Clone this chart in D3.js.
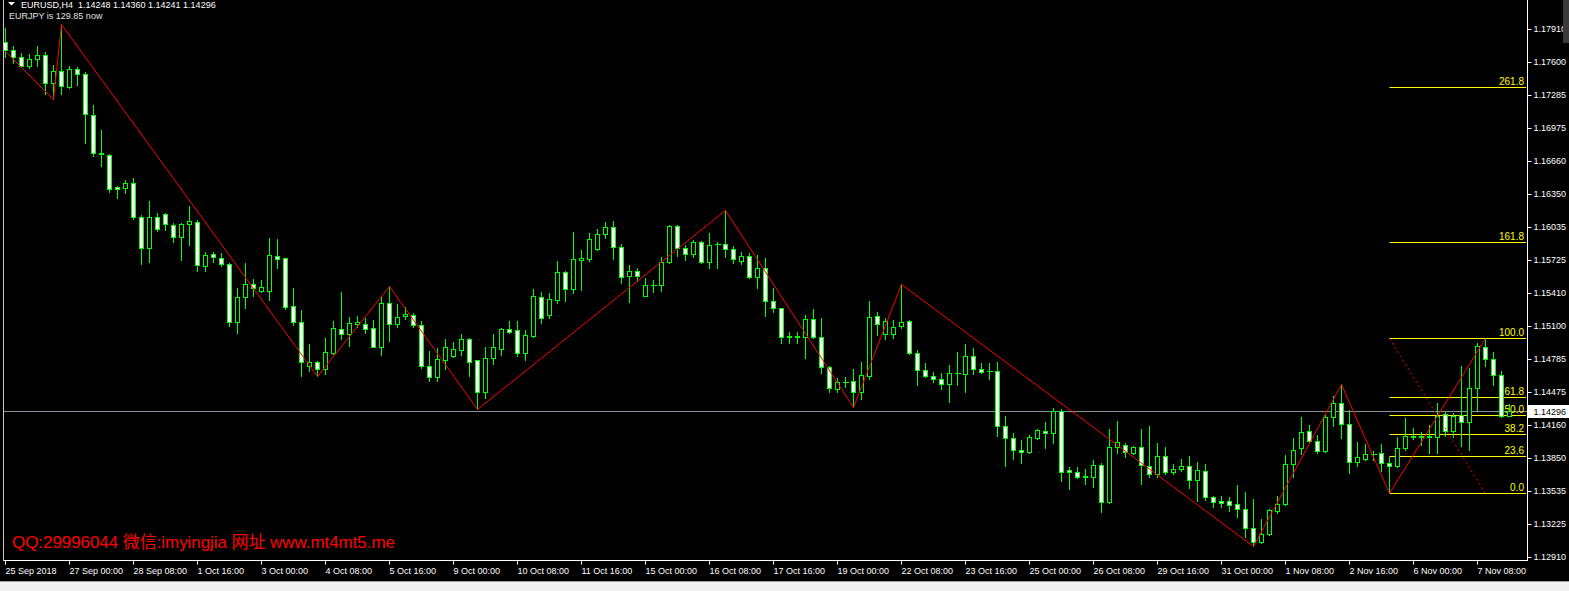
<!DOCTYPE html>
<html><head><meta charset="utf-8">
<script src="https://cdn.jsdelivr.net/npm/d3@7/dist/d3.min.js"></script>
<style>html,body{margin:0;padding:0;background:#000;overflow:hidden}svg{display:block}</style>
</head><body><svg id="c" width="1569" height="591"></svg>
<script>
const openP = [1.17787,1.17712,1.17645,1.17560,1.17626,1.17664,1.17399,1.17513,1.17361,1.17532,
1.17484,1.17096,1.16727,1.16717,1.16414,1.16405,1.16452,1.16130,1.15836,1.16130,
1.16158,1.16054,1.15941,1.16064,1.16083,1.15666,1.15780,1.15742,1.15685,1.15136,
1.15372,1.15496,1.15429,1.15429,1.15761,1.15742,1.15287,1.15136,1.14719,1.14757,
1.14691,1.14842,1.15069,1.15022,1.15117,1.15117,1.15079,1.14899,1.15316,1.15117,
1.15193,1.15202,1.15107,1.14719,1.14615,1.14776,1.14814,1.14871,1.14975,1.14776,
1.14473,1.14795,1.14880,1.15069,1.15060,1.14842,1.15003,1.15372,1.15202,1.15344,
1.15609,1.15448,1.15723,1.15732,1.15827,1.15969,1.16035,1.15846,1.15571,1.15619,
1.15382,1.15482,1.15486,1.15704,1.16045,1.15836,1.15780,1.15893,1.15704,1.15870,
1.15874,1.15827,1.15713,1.15761,1.15562,1.15647,1.15335,1.15268,1.14994,1.14999,
1.14994,1.15164,1.14994,1.14710,1.14501,1.14568,1.14577,1.14473,1.14624,1.15193,
1.15022,1.15022,1.15098,1.15145,1.14842,1.14681,1.14624,1.14596,1.14549,1.14648,
1.14643,1.14814,1.14691,1.14672,1.14672,1.14151,1.14037,1.13924,1.13905,1.14037,
1.14103,1.14085,1.14293,1.13734,1.13715,1.13673,1.13668,1.13781,1.13431,1.13952,
1.13971,1.13895,1.13952,1.13772,1.13696,1.13867,1.13715,1.13744,1.13772,1.13639,
1.13725,1.13478,1.13441,1.13441,1.13412,1.13365,1.13185,1.13052,1.13128,1.13346,
1.13412,1.13791,1.13942,1.14103,1.14009,1.13914,1.14236,1.14369,1.14170,1.13810,
1.13838,1.13881,1.13895,1.13800,1.13772,1.13942,1.14052,1.14047,1.14052,1.14047,
1.14264,1.14103,1.14255,1.14189,1.14511,1.14899,1.14785,1.14634,1.14248];
const highP = [1.17920,1.17749,1.17683,1.17674,1.17749,1.17693,1.17569,1.17958,1.17560,1.17551,
1.17503,1.17191,1.16954,1.16727,1.16424,1.16480,1.16499,1.16149,1.16282,1.16168,
1.16168,1.16073,1.16073,1.16234,1.16102,1.15799,1.15799,1.15789,1.15694,1.15458,
1.15694,1.15543,1.15533,1.15931,1.15922,1.15745,1.15458,1.15249,1.14927,1.14766,
1.14984,1.15145,1.15420,1.15183,1.15193,1.15174,1.15155,1.15372,1.15477,1.15306,
1.15278,1.15221,1.15145,1.14861,1.14889,1.14975,1.14946,1.15022,1.14984,1.14780,
1.14899,1.15022,1.15079,1.15145,1.15145,1.15060,1.15448,1.15420,1.15410,1.15713,
1.15619,1.15988,1.15818,1.15979,1.16016,1.16083,1.16092,1.15874,1.15675,1.15647,
1.15552,1.15533,1.15751,1.16054,1.16050,1.15865,1.15912,1.15903,1.15979,1.15893,
1.16199,1.15855,1.15799,1.15789,1.15770,1.15742,1.15458,1.15272,1.15041,1.15041,
1.15202,1.15259,1.15174,1.14714,1.14605,1.14615,1.14691,1.14757,1.15335,1.15230,
1.15174,1.15155,1.15493,1.15155,1.14871,1.14747,1.14662,1.14653,1.14728,1.14852,
1.14927,1.14889,1.14747,1.14747,1.14757,1.14246,1.14085,1.14018,1.14066,1.14122,
1.14189,1.14321,1.14312,1.13763,1.13763,1.13744,1.13829,1.13800,1.14122,1.14198,
1.13990,1.13961,1.14122,1.14151,1.13990,1.13952,1.13791,1.13838,1.13867,1.13810,
1.13791,1.13488,1.13488,1.13478,1.13592,1.13526,1.13460,1.13270,1.13365,1.13488,
1.13876,1.14037,1.14236,1.14160,1.14066,1.14255,1.14435,1.14549,1.14302,1.13999,
1.13980,1.13914,1.13980,1.13857,1.14047,1.14227,1.14132,1.14094,1.14160,1.14369,
1.14283,1.14274,1.14719,1.14700,1.14937,1.14984,1.14852,1.14672,1.14360];
const lowP = [1.17645,1.17588,1.17551,1.17541,1.17560,1.17295,1.17248,1.17295,1.17352,1.17380,
1.16831,1.16708,1.16613,1.16367,1.16310,1.16357,1.16111,1.15685,1.15704,1.15997,
1.16007,1.15893,1.15723,1.15865,1.15619,1.15619,1.15704,1.15666,1.15098,1.15032,
1.15268,1.15382,1.15420,1.15344,1.15647,1.15259,1.15107,1.14624,1.14672,1.14620,
1.14643,1.14833,1.14975,1.14908,1.15088,1.15032,1.14895,1.14823,1.14956,1.15088,
1.15164,1.15088,1.14700,1.14577,1.14577,1.14691,1.14804,1.14823,1.14624,1.14310,
1.14416,1.14738,1.14823,1.15032,1.14814,1.14776,1.14994,1.15126,1.15174,1.15316,
1.15335,1.15410,1.15439,1.15713,1.15818,1.15931,1.15732,1.15505,1.15325,1.15524,
1.15378,1.15420,1.15429,1.15694,1.15761,1.15723,1.15751,1.15694,1.15647,1.15647,
1.15751,1.15694,1.15685,1.15552,1.15458,1.15193,1.15230,1.14937,1.14937,1.14937,
1.14795,1.14984,1.14653,1.14473,1.14473,1.14520,1.14328,1.14407,1.14596,1.15013,
1.14975,1.14984,1.15079,1.14833,1.14539,1.14615,1.14568,1.14501,1.14378,1.14539,
1.14473,1.14643,1.14653,1.14596,1.14056,1.13772,1.13838,1.13800,1.13895,1.14028,
1.13942,1.13990,1.13630,1.13554,1.13658,1.13602,1.13573,1.13336,1.13422,1.13895,
1.13857,1.13890,1.13602,1.13668,1.13668,1.13696,1.13696,1.13725,1.13564,1.13441,
1.13450,1.13384,1.13384,1.13346,1.13289,1.13100,1.13014,1.13043,1.13119,1.13327,
1.13403,1.13668,1.13886,1.13990,1.13895,1.13905,1.14151,1.14037,1.13706,1.13772,
1.13833,1.13829,1.13725,1.13516,1.13763,1.13924,1.14028,1.13971,1.13895,1.13895,
1.14056,1.14047,1.13961,1.13924,1.14293,1.14719,1.14539,1.14236,1.14241];
const closeP = [1.17712,1.17645,1.17560,1.17626,1.17664,1.17399,1.17513,1.17371,1.17532,1.17484,
1.17105,1.16736,1.16736,1.16395,1.16395,1.16452,1.16130,1.15836,1.16130,1.16016,
1.16064,1.15941,1.16064,1.16092,1.15675,1.15770,1.15751,1.15685,1.15136,1.15372,
1.15496,1.15458,1.15467,1.15770,1.15732,1.15278,1.15136,1.14757,1.14757,1.14691,
1.14852,1.15079,1.15022,1.15126,1.15136,1.15069,1.14899,1.15316,1.15117,1.15183,
1.15211,1.15107,1.14719,1.14615,1.14785,1.14899,1.14880,1.14975,1.14757,1.14473,
1.14795,1.14899,1.15069,1.15041,1.14842,1.15013,1.15382,1.15174,1.15354,1.15609,
1.15448,1.15732,1.15742,1.15922,1.15969,1.16035,1.15846,1.15562,1.15619,1.15571,
1.15486,1.15486,1.15704,1.16045,1.15836,1.15780,1.15893,1.15704,1.15865,1.15874,
1.15827,1.15732,1.15761,1.15562,1.15647,1.15335,1.15268,1.14994,1.14999,1.14994,
1.15164,1.14994,1.14710,1.14511,1.14568,1.14563,1.14473,1.14634,1.15183,1.15117,
1.15145,1.15088,1.15136,1.14842,1.14681,1.14624,1.14596,1.14549,1.14653,1.14653,
1.14814,1.14691,1.14662,1.14669,1.14151,1.14037,1.13924,1.13905,1.14047,1.14113,
1.14085,1.14293,1.13715,1.13715,1.13668,1.13668,1.13781,1.13431,1.13952,1.13999,
1.13905,1.13952,1.13781,1.13696,1.13867,1.13715,1.13744,1.13772,1.13639,1.13734,
1.13478,1.13431,1.13422,1.13403,1.13365,1.13185,1.13052,1.13128,1.13355,1.13412,
1.13791,1.13924,1.14094,1.14009,1.13914,1.14236,1.14369,1.14170,1.13810,1.13857,
1.13886,1.13886,1.13800,1.13772,1.13942,1.14056,1.14047,1.14052,1.14047,1.14246,
1.14103,1.14246,1.14189,1.14511,1.14908,1.14785,1.14634,1.14246,1.14296];

const priceTicks = [1.12910,1.13225,1.13535,1.13850,1.14160,1.14475,1.14785,1.15100,1.15410,1.15725,1.16035,1.16350,1.16660,1.16975,1.17285,1.17600,1.17910];
const timeLabels = ["25 Sep 2018","27 Sep 00:00","28 Sep 08:00","1 Oct 16:00","3 Oct 00:00","4 Oct 08:00","5 Oct 16:00","9 Oct 00:00","10 Oct 08:00","11 Oct 16:00","15 Oct 00:00","16 Oct 08:00","17 Oct 16:00","19 Oct 00:00","22 Oct 08:00","23 Oct 16:00","25 Oct 00:00","26 Oct 08:00","29 Oct 16:00","31 Oct 00:00","1 Nov 08:00","2 Nov 16:00","6 Nov 00:00","7 Nov 08:00"];
const barsPerLabel = 8;
const zigzagIndex = [0,6,7,39,48,59,90,106,112,156,167,173,185];
const zigzagPrice = [1.17705,1.17248,1.17958,1.14620,1.15477,1.14310,1.16199,1.14328,1.15493,1.13014,1.14549,1.13516,1.14984];
const fibLevels = [0,23.6,38.2,50,61.8,100,161.8,261.8];
const fibLabels = ["0.0","23.6","38.2","50.0","61.8","100.0","161.8","261.8"];
const fibIndex = [173,185];
const fibPrice = [1.14984,1.13516];
const symbolName = "EURUSD,H4";
const lastBar = [1.14248,1.14360,1.14241,1.14296];
const bidPrice = 1.14296;
const infoText = "EURJPY is 129.85 now";
const watermark = "QQ:29996044 微信:imyingjia 网址 www.mt4mt5.me";

const W = 1569, H = 591;
const plotRight = 1527, plotBottom = 560;
const FONT = "'Liberation Sans', Arial, sans-serif";
const svg = d3.select("#c");
svg.append("rect").attr("width",W).attr("height",H).attr("fill","#000");

const n = openP.length;
const x = d3.scaleLinear().domain([0, n-1]).range([5.5, 5.5 + 8*(n-1)]);
const y = d3.scaleLinear().domain([priceTicks[0], priceTicks[priceTicks.length-1]]).range([557, 29]);
const Y = v => Math.round(y(v));

// bid line
svg.append("line").attr("x1",3).attr("x2",plotRight).attr("y1",Y(bidPrice)+0.5).attr("y2",Y(bidPrice)+0.5)
  .attr("stroke","#8c9099").attr("stroke-width",1);

// fib levels
const fLow = fibPrice[1], fHigh = fibPrice[0];
const fg = svg.append("g");
fibLevels.forEach((lv,i) => {
  const p = fLow + (fHigh - fLow) * lv / 100;
  const yy = Y(p) + 0.5;
  fg.append("line").attr("x1", Math.round(x(fibIndex[0]))-0.5).attr("x2", plotRight-1)
    .attr("y1", yy).attr("y2", yy).attr("stroke","#ffff00").attr("stroke-width",1);
  fg.append("text").attr("x", plotRight-3).attr("y", yy-2.5).attr("text-anchor","end")
    .attr("font-family",FONT).attr("font-size","10px").attr("fill","#ffff00").text(fibLabels[i]);
});

// candles
const cg = svg.append("g");
for (let i=0;i<n;i++){
  const cx = x(i);
  const o=openP[i], h=highP[i], l=lowP[i], c=closeP[i];
  cg.append("line").attr("x1",cx).attr("x2",cx).attr("y1",Y(h)).attr("y2",Y(l)+1)
    .attr("stroke","#00ff00").attr("stroke-width",1);
  const top = Y(Math.max(o,c)), bot = Y(Math.min(o,c));
  const bull = c > o;
  if (bot - top < 1) {
    cg.append("line").attr("x1",cx-2.5).attr("x2",cx+3.5).attr("y1",top+0.5).attr("y2",top+0.5)
      .attr("stroke","#00ff00").attr("stroke-width",1);
  } else {
    cg.append("rect").attr("x",cx-2).attr("y",top+0.5).attr("width",4).attr("height",bot-top)
      .attr("fill", bull ? "#000000" : "#ffffff").attr("stroke","#00ff00").attr("stroke-width",1);
  }
}

// zigzag
const zz = zigzagIndex.map((d,i)=>[x(d), Y(zigzagPrice[i])+0.5]);
svg.append("path").attr("d", d3.line()(zz)).attr("fill","none").attr("stroke","#ff0000").attr("stroke-width",1);

// fib trend (dotted)
svg.append("line").attr("x1",x(fibIndex[0])).attr("y1",Y(fibPrice[0])+0.5)
  .attr("x2",x(fibIndex[1])).attr("y2",Y(fibPrice[1])+0.5)
  .attr("stroke","#ff0000").attr("stroke-width",1).attr("stroke-dasharray","2,3");

// frame lines
svg.append("line").attr("x1",plotRight+0.5).attr("x2",plotRight+0.5).attr("y1",0).attr("y2",plotBottom+1)
  .attr("stroke","#ffffff");
svg.append("line").attr("x1",3).attr("x2",plotRight+1).attr("y1",plotBottom+0.5).attr("y2",plotBottom+0.5)
  .attr("stroke","#ffffff");
svg.append("line").attr("x1",3.5).attr("x2",3.5).attr("y1",0).attr("y2",plotBottom+1)
  .attr("stroke","#c8c8c8");

// price axis
const ya = svg.append("g").attr("transform",`translate(${plotRight+0.5},0.5)`)
  .call(d3.axisRight(y).tickValues(priceTicks).tickFormat(d3.format(".5f")).tickSize(4).tickPadding(2));
ya.select(".domain").remove();
ya.selectAll(".tick").attr("transform", d => `translate(0,${Y(d)})`);
ya.selectAll("line").attr("stroke","#ffffff");
ya.selectAll("text").attr("fill","#ffffff").attr("font-family",FONT).attr("font-size","9px");

// time axis
const tickIdx = timeLabels.map((d,i)=>i*barsPerLabel);
const xa = svg.append("g").attr("transform",`translate(0,${plotBottom+0.5})`)
  .call(d3.axisBottom(x).tickValues(tickIdx).tickFormat((d,i)=>timeLabels[i]).tickSize(4).tickPadding(3));
xa.select(".domain").remove();
xa.selectAll(".tick").attr("transform", d => `translate(${Math.round(x(d)-0.5)+0.5},0)`);
xa.selectAll("line").attr("stroke","#ffffff");
xa.selectAll("text").attr("fill","#ffffff").attr("font-family",FONT).attr("font-size","9px")
  .attr("text-anchor","start").attr("x",0);

// bid label
const by = Y(bidPrice);
svg.append("rect").attr("x",plotRight+1).attr("y",by-6).attr("width",W-plotRight-1).attr("height",13).attr("fill","#ffffff");
svg.append("text").attr("x",plotRight+6.5).attr("y",by+4).attr("font-family",FONT).attr("font-size","9px")
  .attr("fill","#000000").text(d3.format(".5f")(bidPrice));

// header
svg.append("path").attr("d","M8,2 L15,2 L11.5,5.5 Z").attr("fill","#ffffff");
svg.append("text").attr("x",21).attr("y",8).attr("font-family",FONT).attr("font-size","9px").attr("fill","#ffffff")
  .attr("xml:space","preserve")
  .text(symbolName + "  " + lastBar.map(d3.format(".5f")).join(" "));
svg.append("text").attr("x",9).attr("y",19).attr("font-family",FONT).attr("font-size","9px").attr("fill","#e0e0e0")
  .text(infoText);

// watermark
svg.append("text").attr("x",12).attr("y",548).attr("font-family","'Liberation Sans', Arial, 'Noto Sans CJK SC', sans-serif")
  .attr("font-size","17px").attr("fill","#ff0000").attr("textLength",383).text(watermark);

// small widget top-right
svg.append("rect").attr("x",1563).attr("y",0).attr("width",6).attr("height",43).attr("fill","#3a3a3a");

// bottom window strip
svg.append("rect").attr("x",0).attr("y",581).attr("width",W).attr("height",10).attr("fill","#f0f0f0");
svg.append("line").attr("x1",0).attr("x2",W).attr("y1",581.5).attr("y2",581.5).attr("stroke","#a0a0a0");
</script></body></html>
